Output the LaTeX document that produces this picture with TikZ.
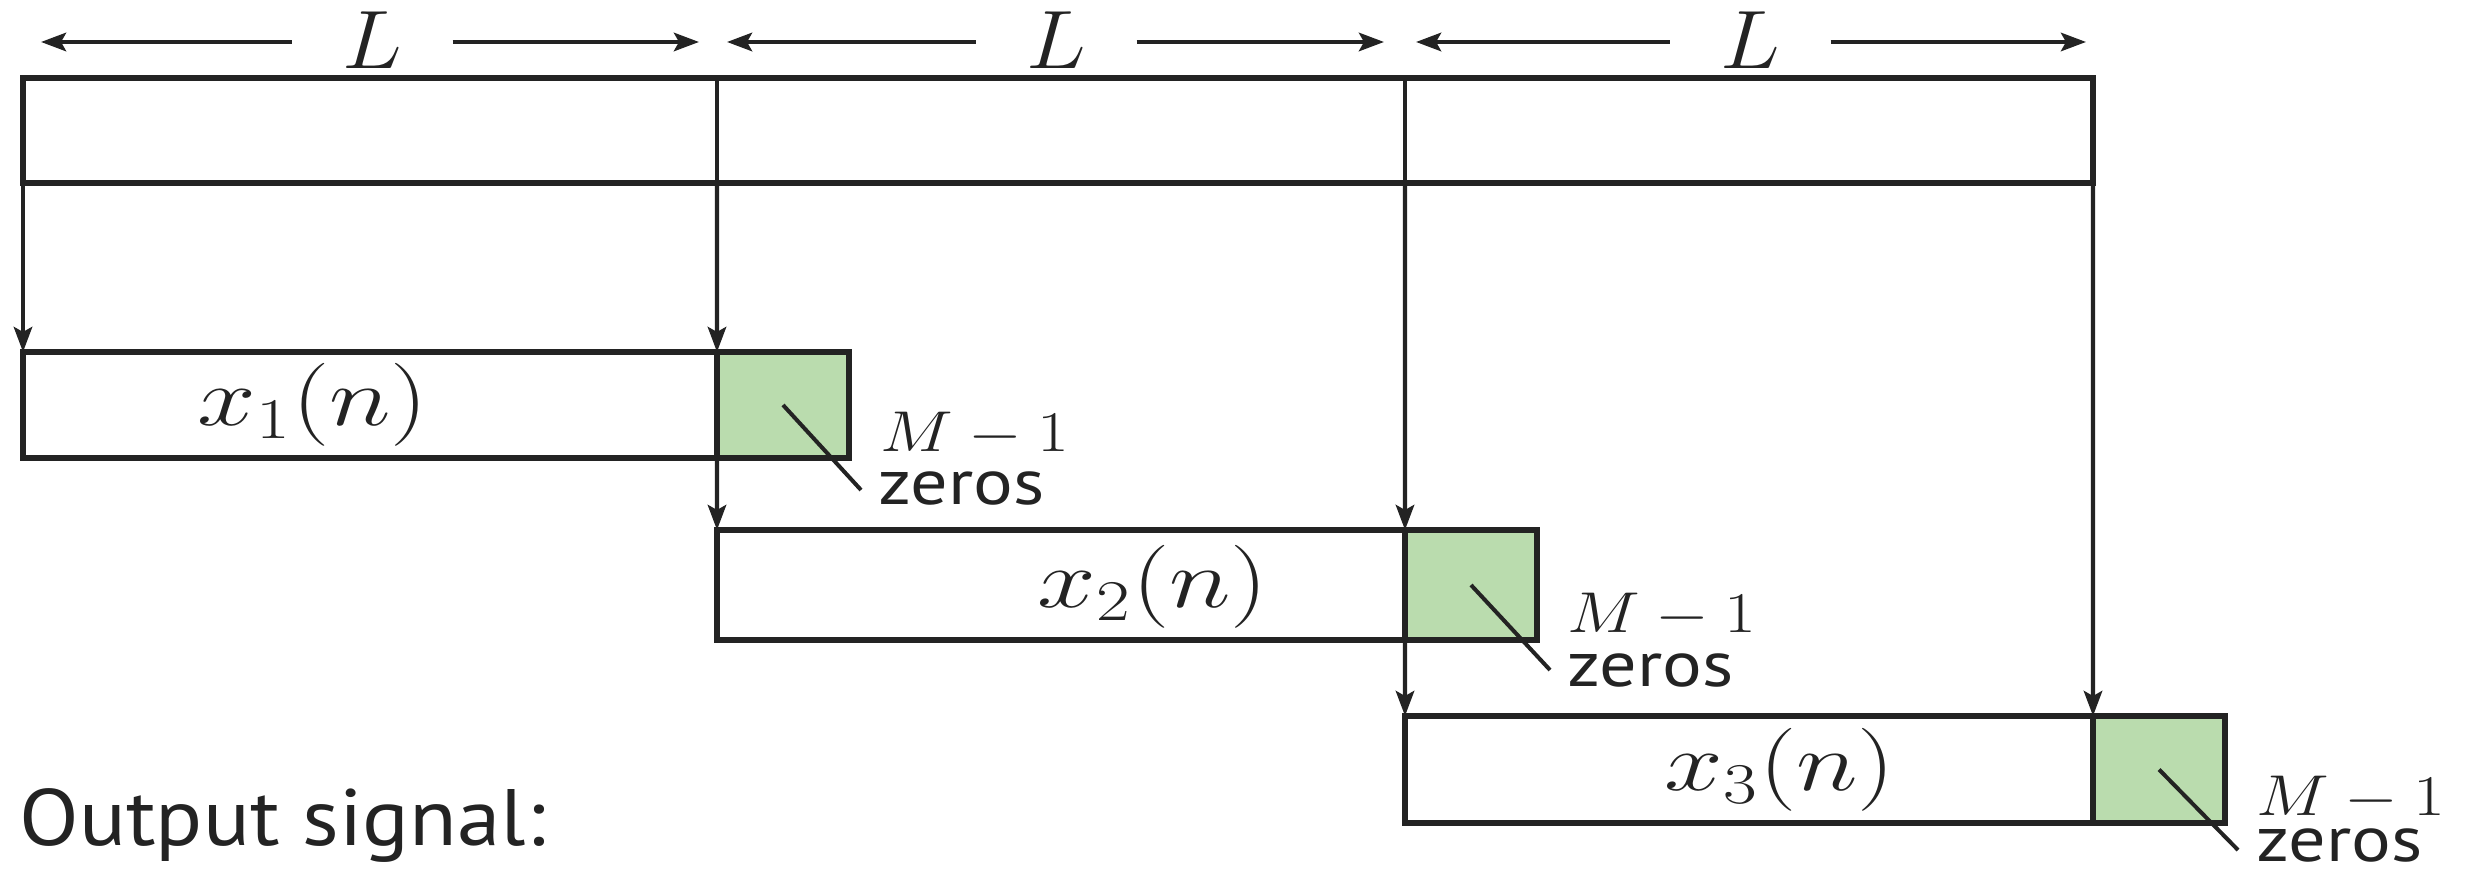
\documentclass[tikz,border=0pt]{standalone}
\usepackage{graphicx}
\usepackage{fontspec}
\setsansfont{PT Sans}
\usetikzlibrary{arrows.meta}
\definecolor{zerogreen}{RGB}{186,220,174}
\definecolor{ink}{RGB}{35,35,35}
\newcommand\wideset[2][1.2]{\scalebox{#1}[1]{#2}}
\begin{document}
\begin{tikzpicture}[x=0.3pt,y=-0.3pt,
  band/.style={draw=ink, line width=1.6pt, inner sep=0pt, outer sep=0pt, anchor=north west},
  sigbox/.style={draw=ink, line width=1.9pt, fill=white, inner sep=0pt, outer sep=0pt, anchor=north west, minimum height=31.8pt},
  zerobox/.style={draw=ink, line width=1.9pt, fill=zerogreen, inner sep=0pt, outer sep=0pt, anchor=north west, minimum width=39.6pt, minimum height=31.8pt},
  guide/.style={draw=ink, line width=1.3pt, -{Stealth[length=7.5pt,width=5.5pt,inset=1.5pt]}},
  pointer/.style={draw=ink, line width=1.2pt},
  mathlab/.style={font=\fontsize{25}{30}\selectfont, text=ink, inner sep=0pt},
  Llab/.style={font=\fontsize{25.5}{30}\selectfont, text=ink, inner ysep=0pt, inner xsep=15pt},
  mlab/.style={font=\fontsize{18.5}{22}\selectfont, text=ink, inner sep=0pt, anchor=base west},
  zlab/.style={font=\sffamily\fontsize{19.2}{22}\selectfont, text=ink, inner sep=0pt, anchor=base west},
  outlab/.style={font=\sffamily\fontsize{24}{28}\selectfont, text=ink, inner sep=0pt, anchor=base west}]
\useasboundingbox (0,0) rectangle (2466,873);

% top band
\node[band, minimum width=621pt, minimum height=31.5pt] (bandbox) at (23,78) {};
\coordinate (t1) at (717,78);
\coordinate (t2) at (1405,78);

% signal boxes
\node[sigbox, minimum width=208.2pt] (b1) at (23,352) {};
\node[zerobox] (g1) at (717,352) {};
\node[sigbox, minimum width=206.4pt, minimum height=33pt] (b2) at (717,530) {};
\node[zerobox, minimum height=33pt] (g2) at (1405,530) {};
\node[sigbox, minimum width=206.4pt, minimum height=32.1pt] (b3) at (1405,716) {};
\node[zerobox, minimum height=32.1pt] (g3) at (2093,716) {};

\node[mathlab] (x1) at (313,405) {\wideset[1.27]{$x_1(n)$}};
\node[mathlab] (x2) at (1153,587) {\wideset[1.27]{$x_2(n)$}};
\node[mathlab] (x3) at (1780,770) {\wideset[1.27]{$x_3(n)$}};

% vertical guides
\draw[ink, line width=1.3pt] (t1) -- (t1 |- bandbox.south);
\draw[ink, line width=1.3pt] (t2) -- (t2 |- bandbox.south);
\draw[guide] (bandbox.south west) -- (b1.north west);
\draw[guide] (t1 |- bandbox.south) -- (b1.north east);
\draw[guide] (b1.south east) -- (b2.north west);
\draw[guide] (t2 |- bandbox.south) -- (b2.north east);
\draw[guide] (b2.south east) -- (b3.north west);
\draw[guide] (bandbox.south east) -- (b3.north east);

% L dimension arrows
\node[Llab] (L1) at (372,40) {\wideset[1.08]{$L$}};
\node[Llab] (L2) at (1056,40) {\wideset[1.08]{$L$}};
\node[Llab] (L3) at (1750,40) {\wideset[1.08]{$L$}};
\coordinate (a1l) at (41,42);  \coordinate (a1r) at (699,42);
\coordinate (a2l) at (727,42); \coordinate (a2r) at (1384,42);
\coordinate (a3l) at (1416,42); \coordinate (a3r) at (2086,42);
\draw[guide] (L1.west |- a1l) -- (a1l);
\draw[guide] (L1.east |- a1r) -- (a1r);
\draw[guide] (L2.west |- a2l) -- (a2l);
\draw[guide] (L2.east |- a2r) -- (a2r);
\draw[guide] (L3.west |- a3l) -- (a3l);
\draw[guide] (L3.east |- a3r) -- (a3r);

% zero labels
\node[mlab] (m1) at (880,452) {\wideset{$M-1$}};
\node[zlab] (z1) at (878,505) {\wideset[1.16]{zeros}};
\node[mlab] (m2) at (1567,633) {\wideset{$M-1$}};
\node[zlab] (z2) at (1567,687) {\wideset[1.16]{zeros}};
\node[mlab] (m3) at (2256,815) {\wideset{$M-1$}};
\node[zlab] (z3) at (2256,861) {\wideset[1.16]{zeros}};
\coordinate (p1) at (861,490);
\coordinate (p2) at (1550,670);
\coordinate (p3) at (2238,850);
\draw[pointer] (g1.center) -- (p1);
\draw[pointer] (g2.center) -- (p2);
\draw[pointer] (g3.center) -- (p3);

\node[outlab] (out) at (19,845) {\wideset[1.09]{Output signal:}};
\end{tikzpicture}
\end{document}
